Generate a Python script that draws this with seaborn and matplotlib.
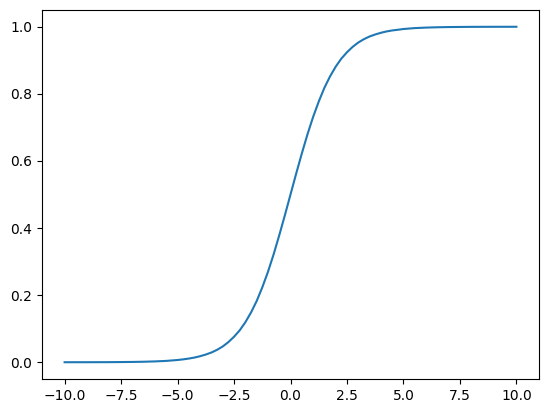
import matplotlib
matplotlib.use("Agg")
import matplotlib.pyplot as plt
import seaborn as sns
import pandas as pd

x_values = [-10.0, -9.5, -9.0, -8.5, -8.0, -7.5, -7.0, -6.5, -6.0, -5.5,
            -5.0, -4.75, -4.5, -4.25, -4.0, -3.75, -3.5, -3.25, -3.0, -2.75,
            -2.5, -2.25, -2.0, -1.75, -1.5, -1.25, -1.0, -0.75, -0.5, -0.25,
            0.0, 0.25, 0.5, 0.75, 1.0, 1.25, 1.5, 1.75, 2.0, 2.25,
            2.5, 2.75, 3.0, 3.25, 3.5, 3.75, 4.0, 4.25, 4.5, 4.75,
            5.0, 5.5, 6.0, 6.5, 7.0, 7.5, 8.0, 8.5, 9.0, 9.5, 10.0]
y_values = [0.00005, 0.00008, 0.00012, 0.0002, 0.0003, 0.0006, 0.0009, 0.0015, 0.0025, 0.004,
            0.0067, 0.0086, 0.011, 0.014, 0.018, 0.023, 0.029, 0.037, 0.047, 0.060,
            0.076, 0.095, 0.119, 0.148, 0.182, 0.223, 0.269, 0.321, 0.378, 0.438,
            0.500, 0.562, 0.622, 0.679, 0.731, 0.777, 0.818, 0.852, 0.881, 0.905,
            0.924, 0.940, 0.953, 0.963, 0.971, 0.977, 0.982, 0.986, 0.989, 0.991,
            0.9933, 0.996, 0.9975, 0.9985, 0.9991, 0.9994, 0.9997, 0.9998, 0.99988, 0.99992, 0.99995]

df = pd.DataFrame({"x": x_values, "y": y_values})

fig, ax = plt.subplots(figsize=(5.47, 4.13), dpi=100)
fig.subplots_adjust(left=42/547, right=539/547, top=1-10/413, bottom=1-379/413)
sns.lineplot(data=df, x="x", y="y", ax=ax, color="#1f77b4", linewidth=1.5)
ax.set_xlabel("")
ax.set_ylabel("")
fig.savefig("out.png", dpi=100)
